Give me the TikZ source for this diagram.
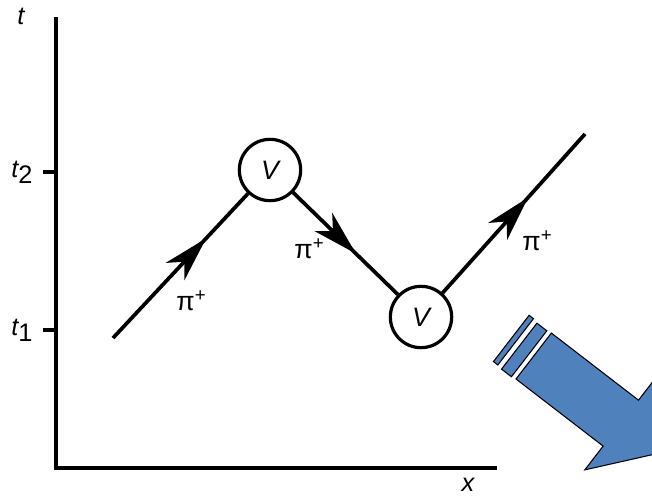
\documentclass[tikz,border=0pt]{standalone}
\usepackage{fontspec}
\setmainfont{Liberation Sans}
\usetikzlibrary{arrows.meta,decorations.markings}
\definecolor{arrowblue}{RGB}{79,129,189}
\newcommand\Pu[2]{({516+0.792*(#1)+0.610*(#2)},{379+0.610*(#1)-0.792*(#2)})}
\newcommand\piplus{π\raisebox{0.65ex}{\fontsize{14}{14}\selectfont +}}
\tikzset{
  axis/.style={line width=2.4pt},
  track/.style={line width=2.8pt},
  vertex/.style={circle,draw,line width=2.4pt,inner sep=0pt,minimum size=46pt,font=\fontsize{20}{22}\selectfont\itshape},
  lbl/.style={font=\fontsize{19}{21}\selectfont},
  pil/.style={font=\fontsize{20}{22}\selectfont},
  midarrow/.style={postaction={decorate},decoration={markings,mark=at position #1 with {\arrow{Stealth[length=34pt,width=19pt,inset=10pt]}}}},
  blueshape/.style={fill=arrowblue,draw=black,line width=0.8pt,line join=miter}
}
\begin{document}
\begin{tikzpicture}[x=0.75pt,y=-0.75pt]
\useasboundingbox (0,0) rectangle (652,499);
\begin{scope}
\clip (0,0) rectangle (652,499);
% axes
\draw[axis] (56,17) -- (56,468) -- (497,468);
\draw[axis] (43,172) -- (56,172);
\draw[axis] (43,330) -- (56,330);
\node[lbl] (tl) at (21,16) {\itshape t};
\node[lbl] (t2) at (22,172) {{\itshape t}\raisebox{-0.45ex}{2}};
\node[lbl] (t1) at (22,330) {{\itshape t}\raisebox{-0.45ex}{1}};
\node[lbl] (xl) at (468,485) {\itshape x};
% vertices
\node[vertex] (v1) at (270,170) {V};
\node[vertex] (v2) at (421,317) {V};
\coordinate (start) at (113,338);
\coordinate (stop) at (585,134);
\draw[track,midarrow=0.69] (start) -- (v1);
\draw[track,midarrow=0.6] (v1) -- (v2);
\draw[track,midarrow=0.6] (v2) -- (stop);
\node[pil] (p1) at (191,301) {\piplus};
\node[pil] (p2) at (309,249) {\piplus};
\node[pil] (p3) at (537,241) {\piplus};
% blue arrow
\draw[blueshape] \Pu{0}{0} -- \Pu{110}{0} -- \Pu{110}{-30} -- \Pu{159}{29} -- \Pu{110}{88} -- \Pu{110}{58} -- \Pu{0}{58} -- cycle;
\draw[blueshape] \Pu{-17.5}{-1} -- \Pu{-5}{-1} -- \Pu{-5}{57} -- \Pu{-17.5}{57} -- cycle;
\draw[blueshape] \Pu{-28.5}{0} -- \Pu{-23}{0} -- \Pu{-23}{58.5} -- \Pu{-28.5}{58.5} -- cycle;
\end{scope}
\end{tikzpicture}
\end{document}
